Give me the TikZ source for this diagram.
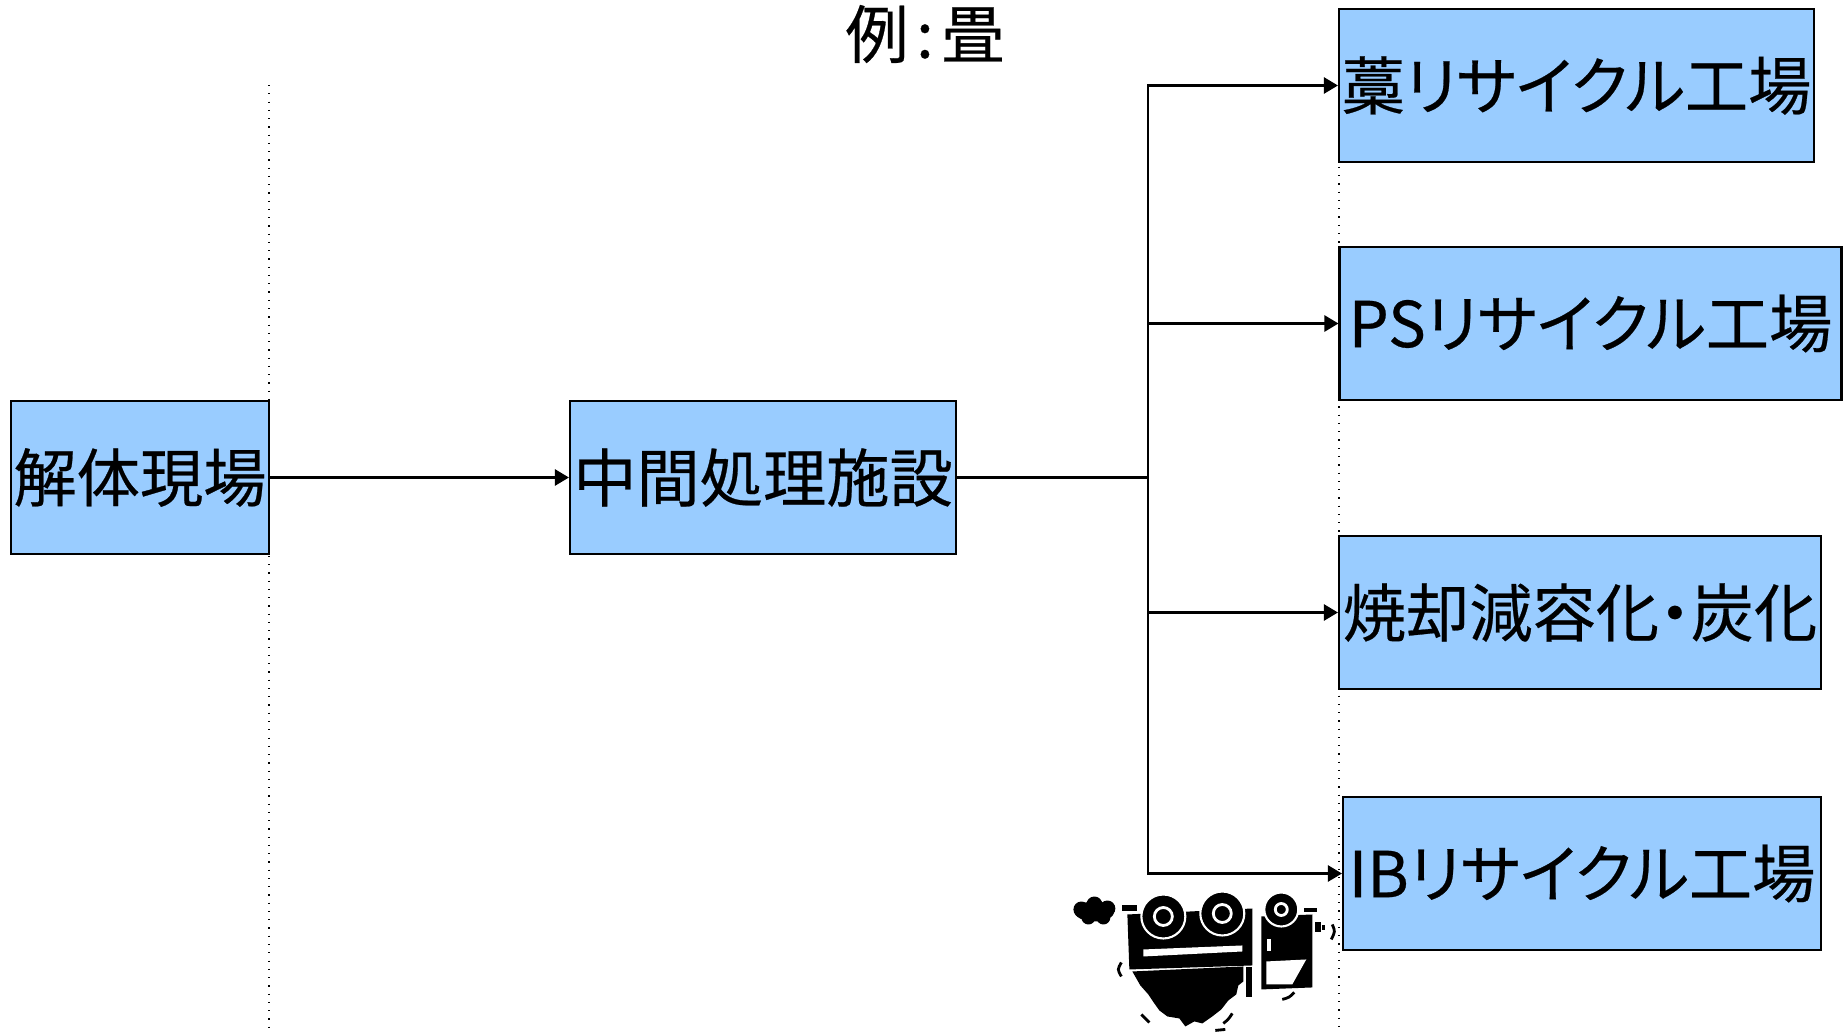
\documentclass[tikz,border=0pt]{standalone}
\usepackage{fontspec}
\setmainfont{Noto Sans CJK JP}[RawFeature=+palt,FakeBold=0.4]
\usepackage{tikz}
\usetikzlibrary{arrows.meta}

\definecolor{boxblue}{RGB}{153,204,255}

\begin{document}
\begin{tikzpicture}[
	stage/.style={shape=rectangle,draw,fill=boxblue,line width=0.6pt,inner sep=0pt,minimum height=1.53cm,font=\fontsize{18pt}{20pt}\selectfont},
	flow/.style={-{Triangle[length=0.14cm,width=0.16cm]},line width=0.7pt},
	guide/.style={dotted,line width=0.35pt}]
	\useasboundingbox (0,0) rectangle (18.43,-10.33);
	% dotted guide lines
	\draw [guide] (2.69,-0.85) -- (2.69,-10.33);
	\draw [guide] (13.39,-0.10) -- (13.39,-10.33);
	\draw (9.25,-0.34) node (title) [font=\fontsize{18pt}{20pt}\selectfont] {例\kern0.12em:\kern0.12em 畳};
	\draw (1.40,-4.775) node (site) [stage,minimum width=2.58cm] {解体現場};
	\draw (7.63,-4.775) node (plant) [stage,minimum width=3.86cm] {中間処理施設};
	\draw (15.765,-0.855) node (straw) [stage,minimum width=4.75cm] {藁リサイクル工場};
	\draw (15.905,-3.235) node (ps) [stage,minimum width=5.02cm] {PSリサイクル工場};
	\draw (15.80,-6.125) node (burn) [stage,minimum width=4.82cm] {焼却減容化・炭化};
	\draw (15.82,-8.735) node (ib) [stage,minimum width=4.78cm] {IBリサイクル工場};
	\coordinate (split) at (11.48,-4.775);
	\draw [flow] (site) -- (plant);
	\draw [line width=0.7pt] (plant) -- (split);
	\foreach \i in {straw,ps,burn,ib} {
		\draw [flow] (split) |- (\i);
	}
	% truck clip art
	\begin{scope}[x=0.01cm,y=-0.01cm]
		% exhaust
		\fill (1095,912) ellipse (20 and 10);
		\fill (1082,910) circle (8) (1095,905) circle (8) (1108,909) circle (8);
		\fill (1089,918) circle (7) (1104,918) circle (7);
		\fill (1123,906) rectangle (1138,912);
		% body
		\fill (1128,915) -- (1253,909) -- (1253,966) -- (1130,970) -- cycle;
		\fill [white] (1144,950) -- (1243,946) -- (1243,952) -- (1144,957) -- cycle;
		\fill (1133,972) -- (1244,967) -- (1244,982) -- (1239,986) -- (1237,995) -- (1229,1001)
			-- (1222,1010) -- (1213,1017) -- (1203,1024) -- (1195,1022) -- (1186,1027)
			-- (1180,1019) -- (1168,1017) -- (1160,1011) -- (1155,1004) -- (1149,995)
			-- (1141,986) -- cycle;
		\fill (1247,968) rectangle (1253,998);
		% cab
		\fill (1262,917) -- (1313,915) -- (1313,988) -- (1262,990) -- cycle;
		\fill [white] (1267,962) -- (1307,960) -- (1293,985) -- (1267,985) -- cycle;
		\fill [white] (1268,940) rectangle (1272,952);
		\fill (1305,909) rectangle (1318,913);
		\fill (1316,923) rectangle (1322,933);
		\fill (1323,926) rectangle (1326,931);
		% wheels
		\foreach \wx/\wy/\wr/\hr in {1164/917/22/9,1223/914/22/9,1282/910/17/6} {
			\filldraw [fill=black,draw=white,line width=0.6pt] (\wx,\wy) circle (\wr);
			\draw [white,line width=0.8pt] (\wx,\wy) circle (\hr);
		}
		% shake marks
		\draw [line width=0.8pt] (1122,963) .. controls (1118,970) .. (1122,977);
		\draw [line width=0.8pt] (1142,1015) .. controls (1146,1020) .. (1150,1023);
		\draw [line width=0.8pt] (1333,925) .. controls (1336,932) .. (1332,940);
		\draw [line width=0.8pt] (1283,1000) .. controls (1290,998) .. (1295,993);
		\draw [line width=0.8pt] (1224,1024) .. controls (1229,1020) .. (1233,1014);
		\draw [line width=0.8pt] (1216,1031) -- (1226,1030);
	\end{scope}
\end{tikzpicture}
\end{document}
